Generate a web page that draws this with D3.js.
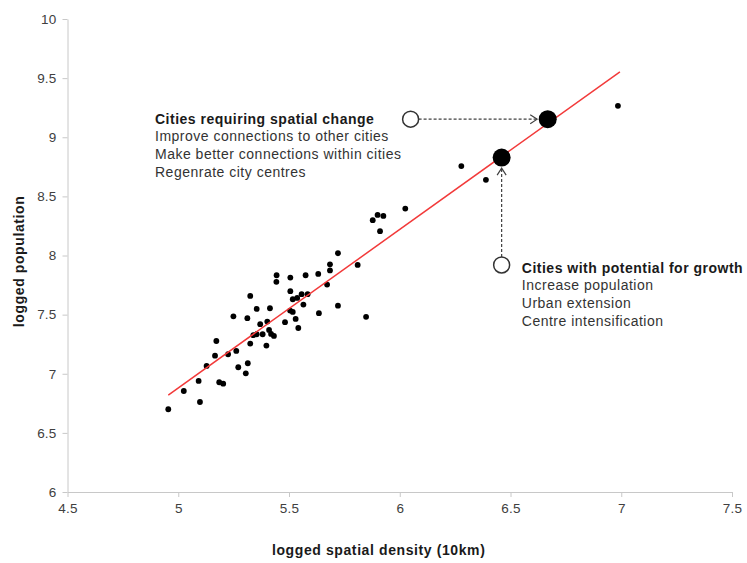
<!DOCTYPE html>
<html>
<head>
<meta charset="utf-8">
<script src="https://cdn.jsdelivr.net/npm/d3@7"></script>
<style>
  body { margin: 0; background: #fff; }
  svg { display: block; font-family: "Liberation Sans", Arial, sans-serif; }
  .axis path, .axis line { stroke: #c8c8c8; }
  .axis text { fill: #404040; font-size: 13.5px; letter-spacing: 0.2px; }
  .axis-title { font-size: 14px; font-weight: bold; fill: #1a1a1a; letter-spacing: 0.6px; }
  .note-title { font-size: 14px; font-weight: bold; fill: #1a1a1a; letter-spacing: 0.5px; }
  .note-line { font-size: 14px; fill: #333; letter-spacing: 0.5px; }
</style>
</head>
<body>
<svg id="chart" width="747" height="563"></svg>
<script>
const density = [4.955, 5.025, 5.098, 5.092, 5.128, 5.185, 5.203, 5.166, 5.172, 5.225,
  5.262, 5.271, 5.305, 5.314, 5.249, 5.325, 5.312, 5.354, 5.325, 5.398,
  5.370, 5.402, 5.414, 5.339, 5.354, 5.381, 5.410, 5.419, 5.432, 5.444,
  5.443, 5.506, 5.506, 5.517, 5.505, 5.517, 5.530, 5.542, 5.482, 5.537,
  5.557, 5.565, 5.584, 5.575, 5.632, 5.635, 5.672, 5.685, 5.685, 5.721,
  5.721, 5.810, 5.848, 5.878, 5.900, 5.926, 5.911, 6.025, 6.278, 6.389, 6.985];
const population = [6.700, 6.854, 6.761, 6.939, 7.066, 6.928, 6.916, 7.153, 7.277, 7.165,
  7.193, 7.055, 7.004, 7.089, 7.486, 7.658, 7.470, 7.548, 7.255, 7.238,
  7.419, 7.441, 7.554, 7.326, 7.334, 7.334, 7.371, 7.337, 7.320, 7.833,
  7.777, 7.813, 7.698, 7.630, 7.534, 7.523, 7.464, 7.387, 7.436, 7.641,
  7.673, 7.585, 7.673, 7.833, 7.844, 7.512, 7.754, 7.925, 7.874, 8.019,
  7.576, 7.920, 7.481, 8.299, 8.343, 8.335, 8.206, 8.397, 8.756, 8.640, 9.266];

// fitted trend line end points
const fitX = [4.955, 6.994];
const fitY = [6.82, 9.553];

// illustrative cities: where they are (open) and where they move to (filled)
const fromX = [6.049, 6.460];
const fromY = [9.153, 7.920];
const toX = [6.668, 6.460];
const toY = [9.153, 8.828];

// annotation texts and their anchor (data units)
const noteTitles = ["Cities requiring spatial change", "Cities with potential for growth"];
const noteLines = [
  ["Improve connections to other cities", "Make better connections within cities", "Regenrate city centres"],
  ["Increase population", "Urban extension", "Centre intensification"]
];
const noteX = [4.895, 6.551];
const noteY = [9.113, 7.853];

const xTicks = [4.5, 5, 5.5, 6, 6.5, 7, 7.5];
const yTicks = [6, 6.5, 7, 7.5, 8, 8.5, 9, 9.5, 10];

const svg = d3.select("#chart");
const m = { top: 19, right: 15, bottom: 71, left: 67.5 };
const W = 747, H = 563;

const x = d3.scaleLinear().domain([4.5, 7.5]).range([m.left, W - m.right]);
const y = d3.scaleLinear().domain([6, 10]).range([H - m.bottom, m.top]);

// axes
svg.append("g")
  .attr("class", "axis")
  .attr("transform", `translate(0,${y(6)})`)
  .call(d3.axisBottom(x).tickValues(xTicks).tickSize(5).tickSizeOuter(0).tickPadding(6).tickFormat(d => String(d)));
svg.append("g")
  .attr("class", "axis")
  .attr("transform", `translate(${x(4.5)},0)`)
  .call(d3.axisLeft(y).tickValues(yTicks).tickSize(5).tickSizeOuter(0).tickPadding(6).tickFormat(d => String(d)));
svg.selectAll(".axis text").attr("font-family", null);

// axis titles
svg.append("text")
  .attr("class", "axis-title")
  .attr("transform", `translate(24,${y(7.95)}) rotate(-90)`)
  .attr("text-anchor", "middle")
  .text("logged population");
svg.append("text")
  .attr("class", "axis-title")
  .attr("x", x(5.905))
  .attr("y", 555)
  .attr("text-anchor", "middle")
  .text("logged spatial density (10km)");

// arrow head
svg.append("defs").append("marker")
  .attr("id", "chev")
  .attr("markerUnits", "userSpaceOnUse")
  .attr("viewBox", "-9 -6 10 12")
  .attr("markerWidth", 10).attr("markerHeight", 12)
  .attr("refX", 0).attr("refY", 0)
  .attr("orient", "auto")
  .append("path")
  .attr("d", "M-7,-4.5L0,0L-7,4.5")
  .attr("fill", "none")
  .attr("stroke", "#404040")
  .attr("stroke-width", 1.2);

// scatter
svg.append("g")
  .selectAll("circle")
  .data(density.map((d, i) => [d, population[i]]))
  .join("circle")
  .attr("cx", d => x(d[0]))
  .attr("cy", d => y(d[1]))
  .attr("r", 2.9)
  .attr("fill", "#000");

// trend line
svg.append("line")
  .attr("x1", x(fitX[0])).attr("y1", y(fitY[0]))
  .attr("x2", x(fitX[1])).attr("y2", y(fitY[1]))
  .attr("stroke", "#f23a3a")
  .attr("stroke-width", 1.5);

// dashed arrows from open to filled circles
const rOpen = 8, rFill = 9;
fromX.forEach((fx, i) => {
  const x0 = x(fx), y0 = y(fromY[i]), x1 = x(toX[i]), y1 = y(toY[i]);
  const len = Math.hypot(x1 - x0, y1 - y0);
  const ux = (x1 - x0) / len, uy = (y1 - y0) / len;
  svg.append("line")
    .attr("x1", x0 + ux * rOpen).attr("y1", y0 + uy * rOpen)
    .attr("x2", x1 - ux * (rFill + 1.5)).attr("y2", y1 - uy * (rFill + 1.5))
    .attr("stroke", "#404040")
    .attr("stroke-width", 1.2)
    .attr("stroke-dasharray", "3,2")
    .attr("marker-end", "url(#chev)");
});

svg.append("g").selectAll("circle")
  .data(fromX.map((d, i) => [d, fromY[i]]))
  .join("circle")
  .attr("cx", d => x(d[0])).attr("cy", d => y(d[1]))
  .attr("r", rOpen)
  .attr("fill", "#fff")
  .attr("stroke", "#333")
  .attr("stroke-width", 1.5);

svg.append("g").selectAll("circle")
  .data(toX.map((d, i) => [d, toY[i]]))
  .join("circle")
  .attr("cx", d => x(d[0])).attr("cy", d => y(d[1]))
  .attr("r", rFill)
  .attr("fill", "#000");

// annotations
noteTitles.forEach((t, i) => {
  const g = svg.append("g").attr("transform", `translate(${x(noteX[i])},${y(noteY[i])})`);
  g.append("text").attr("class", "note-title").text(t);
  noteLines[i].forEach((l, j) => {
    g.append("text").attr("class", "note-line").attr("y", 17.6 * (j + 1)).text(l);
  });
});
</script>
</body>
</html>
